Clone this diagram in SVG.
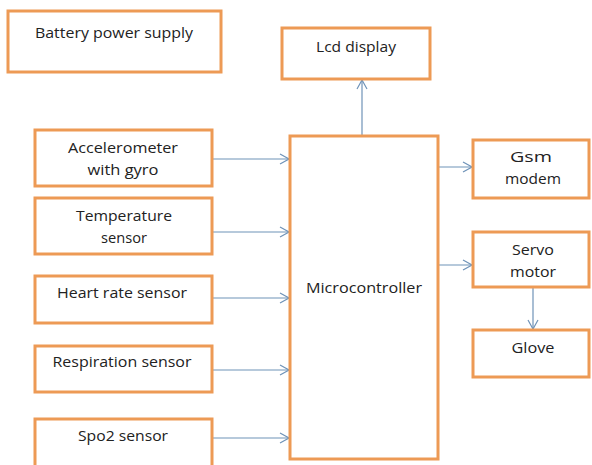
<svg xmlns="http://www.w3.org/2000/svg" width="592" height="465" viewBox="0 0 592 465">
<defs>
<style>
.box{fill:#fff;stroke:#ED9A55;stroke-width:3}
.t{font-family:"Open Sans","Liberation Sans",sans-serif;font-size:14.5px;fill:#222;text-anchor:middle}
.c{stroke:#6F93B8;stroke-width:1.2;fill:none}
</style>
<marker id="ah" viewBox="0 0 10 12" refX="10" refY="6" markerWidth="10" markerHeight="12" markerUnits="userSpaceOnUse" orient="auto">
<path d="M1,1 L10,6 L1,11" fill="none" stroke="#6F93B8" stroke-width="1.2"/>
</marker>
</defs>
<rect width="592" height="465" fill="#fff"/>
<g id="connectors">
<line class="c" x1="212" y1="159" x2="289" y2="159" marker-end="url(#ah)"/>
<line class="c" x1="212" y1="232" x2="289" y2="232" marker-end="url(#ah)"/>
<line class="c" x1="212" y1="298" x2="289" y2="298" marker-end="url(#ah)"/>
<line class="c" x1="212" y1="370" x2="289" y2="370" marker-end="url(#ah)"/>
<line class="c" x1="212" y1="438" x2="289" y2="438" marker-end="url(#ah)"/>
<line class="c" x1="362" y1="135" x2="362" y2="80" marker-end="url(#ah)"/>
<line class="c" x1="438" y1="167" x2="472" y2="167" marker-end="url(#ah)"/>
<line class="c" x1="438" y1="265" x2="472" y2="265" marker-end="url(#ah)"/>
<line class="c" x1="533" y1="287" x2="533" y2="329" marker-end="url(#ah)"/>
</g>
<g id="battery"><rect class="box" x="8" y="11" width="213" height="61"/><text class="t" x="114" y="38" textLength="158" lengthAdjust="spacingAndGlyphs">Battery power supply</text></g>
<g id="lcd"><rect class="box" x="282" y="28" width="148" height="51"/><text class="t" x="356" y="52" textLength="80" lengthAdjust="spacingAndGlyphs">Lcd display</text></g>
<g id="accel"><rect class="box" x="35" y="130" width="177" height="56"/><text class="t" x="123" y="153" textLength="110" lengthAdjust="spacingAndGlyphs">Accelerometer</text><text class="t" x="123" y="175" textLength="71" lengthAdjust="spacingAndGlyphs">with gyro</text></g>
<g id="temp"><rect class="box" x="35" y="198" width="177" height="56"/><text class="t" x="124" y="221" textLength="96" lengthAdjust="spacingAndGlyphs">Temperature</text><text class="t" x="124" y="243" textLength="46" lengthAdjust="spacingAndGlyphs">sensor</text></g>
<g id="heart"><rect class="box" x="35" y="276" width="177" height="47"/><text class="t" x="122" y="298" textLength="130" lengthAdjust="spacingAndGlyphs">Heart rate sensor</text></g>
<g id="resp"><rect class="box" x="35" y="346" width="177" height="46"/><text class="t" x="122" y="367" textLength="139" lengthAdjust="spacingAndGlyphs">Respiration sensor</text></g>
<g id="spo2"><rect class="box" x="35" y="419" width="177" height="52"/><text class="t" x="123" y="441" textLength="90" lengthAdjust="spacingAndGlyphs">Spo2 sensor</text></g>
<g id="micro"><rect class="box" x="290" y="136" width="148" height="323"/><text class="t" x="364" y="293" textLength="116" lengthAdjust="spacingAndGlyphs">Microcontroller</text></g>
<g id="gsm"><rect class="box" x="473" y="140" width="116" height="58"/><text class="t" x="531" y="162" textLength="42" lengthAdjust="spacingAndGlyphs">Gsm</text><text class="t" x="533" y="184" textLength="56" lengthAdjust="spacingAndGlyphs">modem</text></g>
<g id="servo"><rect class="box" x="473" y="232" width="116" height="55"/><text class="t" x="533" y="255" textLength="42" lengthAdjust="spacingAndGlyphs">Servo</text><text class="t" x="533" y="277" textLength="46" lengthAdjust="spacingAndGlyphs">motor</text></g>
<g id="glove"><rect class="box" x="473" y="330" width="116" height="47"/><text class="t" x="533" y="353" textLength="43" lengthAdjust="spacingAndGlyphs">Glove</text></g>
</svg>
